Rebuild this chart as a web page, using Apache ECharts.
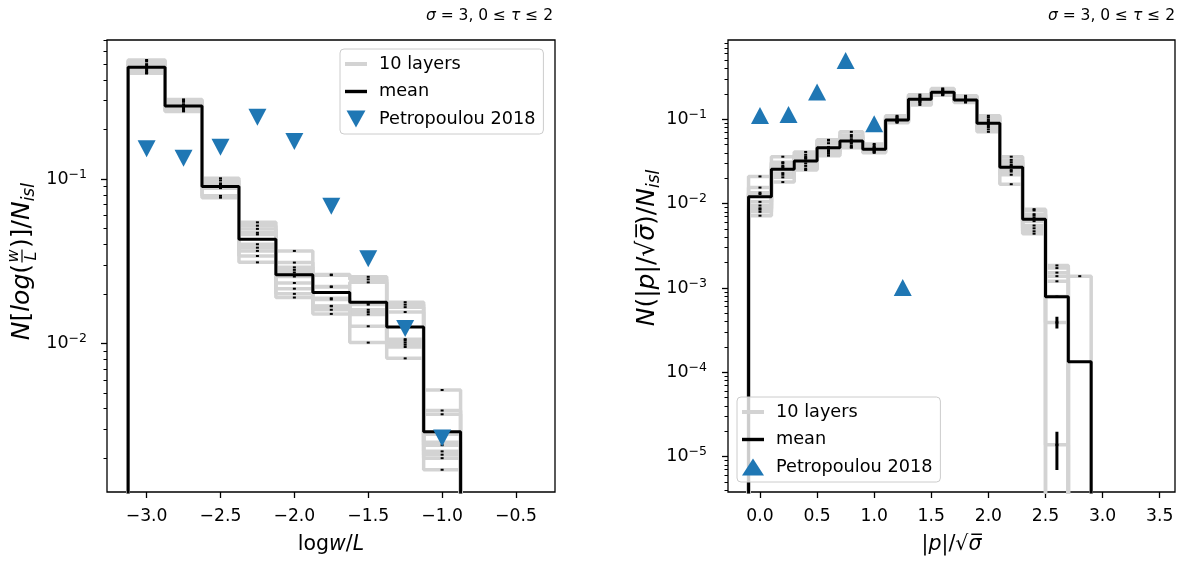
<!DOCTYPE html>
<html>
<head>
<meta charset="utf-8">
<script src="https://cdn.jsdelivr.net/npm/echarts@6/dist/echarts.min.js"></script>
<style>
  html, body { margin: 0; padding: 0; background: #fff; }
  #chart { width: 1192px; height: 565px; }
</style>
</head>
<body>
<div id="chart"></div>
<script>
// ---------- left panel: distribution of log(w/L) ----------
const wBinCenters = [-3.0, -2.75, -2.5, -2.25, -2.0, -1.75, -1.5, -1.25, -1.0];
const wBinWidth = 0.25;
const wMean = [0.479, 0.278, 0.090, 0.043, 0.0261, 0.0204, 0.0178, 0.01256, 0.0029];
// one row per bin, ten layers per row
const wLayersByBin = [
  [0.53, 0.52, 0.50, 0.49, 0.48, 0.47, 0.46, 0.45, 0.44, 0.44],
  [0.305, 0.30, 0.295, 0.285, 0.28, 0.275, 0.27, 0.265, 0.26, 0.258],
  [0.101, 0.098, 0.094, 0.092, 0.091, 0.090, 0.089, 0.088, 0.079, 0.077],
  [0.0545, 0.052, 0.0497, 0.0471, 0.046, 0.0401, 0.0382, 0.0365, 0.034, 0.0311],
  [0.0365, 0.031, 0.029, 0.028, 0.027, 0.0255, 0.0233, 0.0215, 0.020, 0.019],
  [0.0262, 0.026, 0.0222, 0.022, 0.0188, 0.0185, 0.0169, 0.0168, 0.016, 0.0151],
  [0.0254, 0.0245, 0.0235, 0.0175, 0.0172, 0.016, 0.0155, 0.015, 0.0127, 0.0101],
  [0.0178, 0.0172, 0.0166, 0.0155, 0.0106, 0.0104, 0.0101, 0.0098, 0.0095, 0.0081],
  [0.0052, 0.0039, 0.0037, 0.0028, 0.0025, 0.0024, 0.0022, 0.0021, 0.0020, 0.0017]
];
const wRefX = [-3.0, -2.75, -2.5, -2.25, -2.0, -1.75, -1.5, -1.25, -1.0];
const wRefY = [0.153, 0.134, 0.156, 0.238, 0.169, 0.0682, 0.0327, 0.0123, 0.00265];
const wXTicks = [-3.0, -2.5, -2.0, -1.5, -1.0, -0.5];
const wXTickLabels = ['\u22123.0', '\u22122.5', '\u22122.0', '\u22121.5', '\u22121.0', '\u22120.5'];
const wYTicks = [0.01, 0.1];
const wYTickExps = ['\u22122', '\u22121'];

// ---------- right panel: distribution of |p|/sqrt(sigma) ----------
const pBinCenters = [0.0, 0.2, 0.4, 0.6, 0.8, 1.0, 1.2, 1.4, 1.6, 1.8, 2.0, 2.2, 2.4, 2.6, 2.8];
const pBinWidth = 0.2;
const pMean = [0.0121, 0.0255, 0.0320, 0.0461, 0.0553, 0.0441, 0.098, 0.1726, 0.209, 0.169, 0.0897, 0.0270, 0.00652, 0.000789, 0.0001336];
const pLayersByBin = [
  [0.021, 0.0155, 0.0135, 0.013, 0.0105, 0.0095, 0.0088, 0.0085, 0.008, 0.0072],
  [0.036, 0.031, 0.030, 0.028, 0.027, 0.026, 0.023, 0.022, 0.0205, 0.018],
  [0.041, 0.038, 0.036, 0.035, 0.034, 0.032, 0.030, 0.028, 0.026, 0.025],
  [0.057, 0.056, 0.052, 0.047, 0.045, 0.043, 0.042, 0.041, 0.039, 0.037],
  [0.071, 0.065, 0.062, 0.058, 0.055, 0.053, 0.052, 0.049, 0.047, 0.046],
  [0.051, 0.049, 0.047, 0.046, 0.045, 0.044, 0.043, 0.042, 0.041, 0.040],
  [0.110, 0.107, 0.104, 0.101, 0.099, 0.097, 0.095, 0.094, 0.093, 0.091],
  [0.196, 0.188, 0.180, 0.175, 0.172, 0.168, 0.165, 0.160, 0.155, 0.148],
  [0.232, 0.226, 0.220, 0.215, 0.210, 0.205, 0.200, 0.197, 0.195, 0.193],
  [0.190, 0.186, 0.180, 0.176, 0.172, 0.168, 0.165, 0.162, 0.160, 0.158],
  [0.110, 0.105, 0.099, 0.095, 0.090, 0.088, 0.085, 0.081, 0.076, 0.071],
  [0.036, 0.033, 0.031, 0.029, 0.028, 0.027, 0.025, 0.024, 0.022, 0.017],
  [0.0086, 0.0083, 0.0075, 0.0072, 0.0068, 0.0062, 0.0055, 0.0051, 0.0047, 0.0044],
  [0.00185, 0.00172, 0.00152, 0.00138, 0.0012, 0.00079, 0.00039, 0.0000138, 0, 0],
  [0, 0, 0, 0.00138, 0, 0, 0, 0, 0, 0]
];
// layer error bars long enough to show as bars: [x, low, high]
const pLongErrors = [[2.6, 0.00000695, 0.0000198], [2.6, 0.000331, 0.000457]];
const pRefX = [0.0, 0.25, 0.5, 0.75, 1.0, 1.25];
const pRefY = [0.111, 0.114, 0.211, 0.498, 0.0887, 0.00101];
const pXTicks = [0.0, 0.5, 1.0, 1.5, 2.0, 2.5, 3.0, 3.5];
const pXTickLabels = ['0.0', '0.5', '1.0', '1.5', '2.0', '2.5', '3.0', '3.5'];
const pYTicks = [0.00001, 0.0001, 0.001, 0.01, 0.1];
const pYTickExps = ['\u22125', '\u22124', '\u22123', '\u22122', '\u22121'];

const FONT = 'DejaVu Sans';
const GRAY = '#d3d3d3';
const BLUE = '#1f77b4';
const FLOOR = 1e-9; // empty bins fall below the visible range
const XLABEL_SIZE = 20.5;
const YLABEL_SIZE = 25;

// outline of a step histogram, starting and ending on the floor
function stepOutline(centers, width, values) {
  const pts = [[centers[0] - width / 2, FLOOR]];
  values.forEach((v, i) => {
    const y = v > 0 ? v : FLOOR;
    pts.push([centers[i] - width / 2, y], [centers[i] + width / 2, y]);
  });
  pts.push([centers[centers.length - 1] + width / 2, FLOOR]);
  return pts;
}

// positions of the 2..9 minor ticks of a log axis
function minorTicks(lo, hi) {
  const out = [];
  for (let e = Math.floor(Math.log10(lo)); e <= Math.ceil(Math.log10(hi)); e++) {
    for (let k = 2; k <= 9; k++) {
      const v = k * Math.pow(10, e);
      if (v >= lo && v <= hi) out.push(v);
    }
  }
  return out;
}

function panelSeries(xi, yi, centers, width, mean, layersByBin, refX, refY, upTriangle) {
  const series = [];
  const nLayers = layersByBin[0].length;
  for (let j = 0; j < nLayers; j++) {
    const layer = layersByBin.map(row => row[j]);
    series.push({
      name: '10 layers', type: 'line', xAxisIndex: xi, yAxisIndex: yi,
      data: stepOutline(centers, width, layer), symbol: 'none', silent: true,
      itemStyle: { color: GRAY }, lineStyle: { color: GRAY, width: 3.5 }, z: 2
    });
  }
  const dashes = [];
  layersByBin.forEach((row, i) => row.forEach(v => { if (v > 0) dashes.push([centers[i], v]); }));
  series.push({
    type: 'scatter', xAxisIndex: xi, yAxisIndex: yi, data: dashes, symbol: 'rect',
    symbolSize: [3, 2], itemStyle: { color: '#000', opacity: 1 }, silent: true, z: 3
  });
  series.push({
    name: 'mean', type: 'line', xAxisIndex: xi, yAxisIndex: yi,
    data: stepOutline(centers, width, mean), symbol: 'none', silent: true,
    itemStyle: { color: '#000' }, lineStyle: { color: '#000', width: 3 }, z: 4
  });
  series.push({
    name: 'Petropoulou 2018', type: 'scatter', xAxisIndex: xi, yAxisIndex: yi,
    data: refX.map((x, i) => [x, refY[i]]), symbol: 'triangle', symbolSize: [18, 17],
    symbolRotate: upTriangle ? 0 : 180, itemStyle: { color: BLUE, opacity: 1 }, z: 5
  });
  return series;
}

function xAxisDef(grid, min, max, ticks, labels, name, rich) {
  return {
    gridIndex: grid, type: 'value', min: min, max: max,
    axisLine: { show: false, onZero: false }, splitLine: { show: false },
    axisTick: { customValues: ticks, length: 6, lineStyle: { color: '#000', width: 1.3 } },
    axisLabel: {
      customValues: ticks, margin: 16, color: '#000', fontSize: 17.2, fontFamily: FONT,
      formatter: v => labels[ticks.findIndex(t => Math.abs(t - v) < 1e-9)]
    },
    name: name, nameLocation: 'middle', nameGap: 42,
    nameTextStyle: { color: '#000', fontSize: XLABEL_SIZE, fontFamily: FONT, rich: rich }
  };
}

function yAxisDefs(grid, min, max, ticks, exps, margin) {
  const tickRich = {
    b: { fontSize: 17.5, fontFamily: FONT, color: '#000' },
    s: { fontSize: 12.5, fontFamily: FONT, color: '#000', padding: [0, 0, 9, 0] }
  };
  return [{
    gridIndex: grid, type: 'log', logBase: 10, min: min, max: max, position: 'left',
    axisLine: { show: false, onZero: false }, splitLine: { show: false },
    axisTick: { customValues: ticks, length: 6, lineStyle: { color: '#000', width: 1.3 } },
    axisLabel: {
      customValues: ticks, margin: margin, rich: tickRich,
      formatter: v => '{b|10}{s|' + exps[ticks.findIndex(t => Math.abs(Math.log10(t) - Math.log10(v)) < 1e-6)] + '}'
    }
  }, {
    gridIndex: grid, type: 'log', logBase: 10, min: min, max: max, position: 'left',
    axisLine: { show: false, onZero: false }, splitLine: { show: false }, axisLabel: { show: false },
    axisTick: { customValues: minorTicks(min, max), length: 3.5, lineStyle: { color: '#000', width: 1 } }
  }];
}

const W_MIN = 0.001245, W_MAX = 0.7015;
const P_MIN = 0.00000381, P_MAX = 0.871;

const legendBase = {
  orient: 'vertical', itemWidth: 22, itemHeight: 17, itemGap: 9.5, symbolKeepAspect: true,
  padding: [6, 8, 6, 5], backgroundColor: 'rgba(255,255,255,0.8)',
  borderColor: '#cccccc', borderWidth: 1, borderRadius: 4, selectedMode: false, z: 10,
  textStyle: { fontSize: 17.7, fontFamily: FONT, color: '#000', padding: [0, 0, 0, 7] }
};
const ICON_LAYERS = 'path://M0,0H22V4H0Z';
const ICON_MEAN = 'path://M0,0H22V3.4H0Z';
const ICON_DOWN = 'path://M0,0H20L10,18Z';

const titleRich = { i: { fontStyle: 'italic', fontSize: 15.5, fontFamily: FONT, color: '#000' } };
const titleText = '{i|\u03c3} = 3, 0 \u2264 {i|\u03c4} \u2264 2';
const xLabelRich = { i: { fontStyle: 'italic', fontSize: XLABEL_SIZE, fontFamily: FONT } };
const yLabelRich = {
  i: { fontStyle: 'italic', fontSize: YLABEL_SIZE, fontFamily: FONT },
  s: { fontStyle: 'italic', fontSize: 17, fontFamily: FONT, padding: [15, 0, 0, 0] }
};

const option = {
  backgroundColor: '#fff',
  animation: false,
  title: [
    { text: titleText, right: 639, top: 8, padding: 0,
      textStyle: { fontSize: 15.5, fontWeight: 'normal', fontFamily: FONT, color: '#000', rich: titleRich } },
    { text: titleText, right: 17, top: 8, padding: 0,
      textStyle: { fontSize: 15.5, fontWeight: 'normal', fontFamily: FONT, color: '#000', rich: titleRich } }
  ],
  grid: [
    { left: 107, top: 40, width: 448, height: 452, show: true, borderColor: '#000', borderWidth: 1.3 },
    { left: 728, top: 40, width: 447, height: 452, show: true, borderColor: '#000', borderWidth: 1.3 }
  ],
  legend: [
    Object.assign({}, legendBase, {
      left: 340, top: 49,
      data: [{ name: '10 layers', icon: ICON_LAYERS, itemStyle: { color: GRAY } },
             { name: 'mean', icon: ICON_MEAN, itemStyle: { color: '#000' } },
             { name: 'Petropoulou 2018', icon: ICON_DOWN, itemStyle: { color: BLUE } }]
    }),
    Object.assign({}, legendBase, {
      left: 737, top: 397,
      data: [{ name: '10 layers', icon: ICON_LAYERS, itemStyle: { color: GRAY } },
             { name: 'mean', icon: ICON_MEAN, itemStyle: { color: '#000' } },
             { name: 'Petropoulou 2018', icon: 'triangle', itemStyle: { color: BLUE } }]
    })
  ],
  xAxis: [
    xAxisDef(0, -3.268, -0.236, wXTicks, wXTickLabels, 'log{i|w}/{i|L}', xLabelRich),
    xAxisDef(1, -0.28, 3.634, pXTicks, pXTickLabels, '|{i|p}|/\u221a{i|\u03c3\u0305}', xLabelRich)
  ],
  yAxis: [].concat(
    yAxisDefs(0, W_MIN, W_MAX, wYTicks, wYTickExps, 20),
    yAxisDefs(1, P_MIN, P_MAX, pYTicks, pYTickExps, 21)
  ),
  series: [].concat(
    panelSeries(0, 0, wBinCenters, wBinWidth, wMean, wLayersByBin, wRefX, wRefY, false),
    panelSeries(1, 2, pBinCenters, pBinWidth, pMean, pLayersByBin, pRefX, pRefY, true),
    pLongErrors.map(e => ({
      type: 'line', xAxisIndex: 1, yAxisIndex: 2, data: [[e[0], e[1]], [e[0], e[2]]],
      symbol: 'none', silent: true, lineStyle: { color: '#000', width: 3 }, z: 3
    }))
  ),
  graphic: [
    // left y-axis title: N[log(w/L)]/N_isl, read bottom to top
    {
      type: 'group', x: 22, y: 256, rotation: Math.PI / 2,
      children: [
        { type: 'text', x: -8, y: 0, style: {
            text: '{i|N}[{i|log}(', align: 'right', verticalAlign: 'middle', rich: yLabelRich,
            fontSize: YLABEL_SIZE, fontFamily: FONT, fill: '#000' } },
        { type: 'text', x: 0, y: -8.5, style: { text: 'w', align: 'center', verticalAlign: 'middle',
            fontSize: 16, fontStyle: 'italic', fontFamily: FONT, fill: '#000' } },
        { type: 'line', shape: { x1: -6.5, y1: 0, x2: 6.5, y2: 0 }, style: { stroke: '#000', lineWidth: 1.2 } },
        { type: 'text', x: 0, y: 9.5, style: { text: 'L', align: 'center', verticalAlign: 'middle',
            fontSize: 16, fontStyle: 'italic', fontFamily: FONT, fill: '#000' } },
        { type: 'text', x: 8, y: 0, style: {
            text: ')]/{i|N}{s|isl}', align: 'left', verticalAlign: 'middle', rich: yLabelRich,
            fontSize: YLABEL_SIZE, fontFamily: FONT, fill: '#000' } }
      ]
    },
    // right y-axis title: N(|p|/sqrt(sigma))/N_isl
    {
      type: 'text', x: 647, y: 248, rotation: Math.PI / 2,
      style: {
        text: '{i|N}(|{i|p}|/\u221a{i|\u03c3\u0305})/{i|N}{s|isl}', align: 'center', verticalAlign: 'middle',
        rich: yLabelRich, fontSize: YLABEL_SIZE, fontFamily: FONT, fill: '#000'
      }
    }
  ]
};

const chart = echarts.init(document.getElementById('chart'), null, { renderer: 'canvas' });
chart.setOption(option);
</script>
</body>
</html>
